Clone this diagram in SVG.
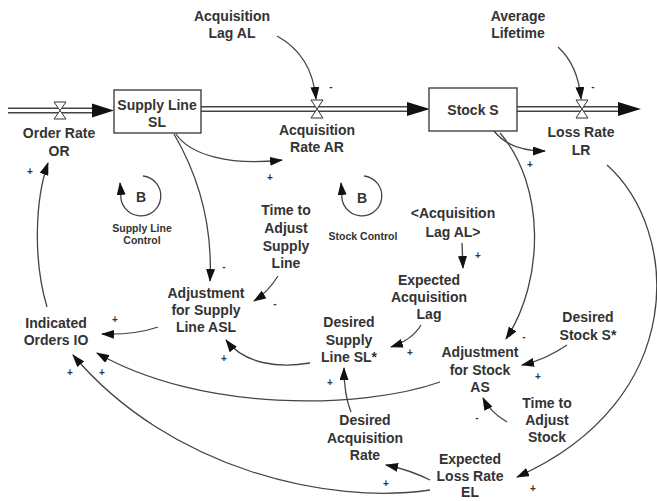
<svg xmlns="http://www.w3.org/2000/svg" width="657" height="501" viewBox="0 0 657 501">
<style>
.t{font-family:"Liberation Sans",Arial,sans-serif;font-weight:bold;font-size:14px;fill:#333;text-anchor:middle}
.s{font-family:"Liberation Sans",Arial,sans-serif;font-weight:bold;font-size:10.5px;fill:#333;text-anchor:middle}
.p{font-family:"Liberation Sans",Arial,sans-serif;font-weight:bold;font-size:10px;fill:#333;text-anchor:middle}
.c{fill:none;stroke:#444;stroke-width:1.3;marker-end:url(#ah)}
.box{fill:#fff;stroke:#333;stroke-width:1.3}
.pipeo{stroke:#444;stroke-width:6;fill:none}
.pipei{stroke:#fff;stroke-width:2.8;fill:none}
.valve{fill:#fff;stroke:#333;stroke-width:1}
.head{fill:#111}
</style>
<defs>
<marker id="ah" viewBox="0 0 13 9" refX="12" refY="4.5" markerWidth="13" markerHeight="9" markerUnits="userSpaceOnUse" orient="auto">
<path d="M0,0 L13,4.5 L0,9 Z" fill="#111"/>
</marker>
</defs>
<rect width="657" height="501" fill="#fff"/>

<g id="flows">
<line class="pipeo" x1="8" y1="110.5" x2="95" y2="110.5"/>
<line class="pipei" x1="8" y1="110.5" x2="95" y2="110.5"/>
<polygon class="head" points="92,103.5 114,110.5 92,117.5"/>
<line class="pipeo" x1="201" y1="109" x2="410" y2="109"/>
<line class="pipei" x1="201" y1="109" x2="410" y2="109"/>
<polygon class="head" points="407,102 430,109 407,116"/>
<line class="pipeo" x1="517" y1="109" x2="620" y2="109"/>
<line class="pipei" x1="517" y1="109" x2="620" y2="109"/>
<polygon class="head" points="618,102 641,109 618,116"/>
</g>

<g id="order-rate">
<polygon class="valve" points="54,102 66,102 60,110.5 66,119 54,119 60,110.5"/>
<text class="t" x="59" y="138">Order Rate</text>
<text class="t" x="59" y="156">OR</text>
</g>
<g id="supply-line">
<rect class="box" x="114" y="90" width="87" height="43"/>
<text class="t" x="157" y="110">Supply Line</text>
<text class="t" x="157" y="127">SL</text>
</g>
<g id="acquisition-rate">
<polygon class="valve" points="311,100 323,100 317,109 323,118 311,118 317,109"/>
<text class="t" x="317" y="135">Acquisition</text>
<text class="t" x="317" y="152">Rate AR</text>
</g>
<g id="stock">
<rect class="box" x="429" y="88" width="88" height="43"/>
<text class="t" x="473" y="115">Stock S</text>
</g>
<g id="loss-rate">
<polygon class="valve" points="576,100 588,100 582,109 588,118 576,118 582,109"/>
<text class="t" x="581" y="137">Loss Rate</text>
<text class="t" x="581" y="155">LR</text>
</g>
<g id="acquisition-lag">
<text class="t" x="232" y="21">Acquisition</text>
<text class="t" x="232" y="38">Lag AL</text>
</g>
<g id="average-lifetime">
<text class="t" x="518" y="21">Average</text>
<text class="t" x="518" y="38">Lifetime</text>
</g>
<g id="time-adjust-supply-line">
<text class="t" x="286" y="215">Time to</text>
<text class="t" x="286" y="233">Adjust</text>
<text class="t" x="286" y="251">Supply</text>
<text class="t" x="286" y="268">Line</text>
</g>
<g id="acquisition-lag-shadow">
<text class="t" x="453" y="218">&lt;Acquisition</text>
<text class="t" x="453" y="237">Lag AL&gt;</text>
</g>
<g id="expected-acquisition-lag">
<text class="t" x="429" y="285">Expected</text>
<text class="t" x="429" y="302">Acquisition</text>
<text class="t" x="429" y="319">Lag</text>
</g>
<g id="adjustment-supply-line">
<text class="t" x="206" y="298">Adjustment</text>
<text class="t" x="206" y="315">for Supply</text>
<text class="t" x="206" y="332">Line ASL</text>
</g>
<g id="indicated-orders">
<text class="t" x="56" y="328">Indicated</text>
<text class="t" x="56" y="345">Orders IO</text>
</g>
<g id="desired-supply-line">
<text class="t" x="349" y="327">Desired</text>
<text class="t" x="349" y="345">Supply</text>
<text class="t" x="349" y="362">Line SL*</text>
</g>
<g id="desired-stock">
<text class="t" x="588" y="322">Desired</text>
<text class="t" x="588" y="340">Stock S*</text>
</g>
<g id="adjustment-stock">
<text class="t" x="480" y="357">Adjustment</text>
<text class="t" x="480" y="375">for Stock</text>
<text class="t" x="480" y="392">AS</text>
</g>
<g id="time-adjust-stock">
<text class="t" x="547" y="408">Time to</text>
<text class="t" x="547" y="425">Adjust</text>
<text class="t" x="547" y="442">Stock</text>
</g>
<g id="desired-acquisition-rate">
<text class="t" x="365" y="425">Desired</text>
<text class="t" x="365" y="443">Acquisition</text>
<text class="t" x="365" y="460">Rate</text>
</g>
<g id="expected-loss-rate">
<text class="t" x="470" y="464">Expected</text>
<text class="t" x="470" y="480.5">Loss Rate</text>
<text class="t" x="470" y="497">EL</text>
</g>
<g id="loop-supply-line-control">
<path class="c" d="M143,176 A20,20 0 1 1 121,193 L120,183"/>
<text class="t" x="141" y="202">B</text>
<text class="s" x="142" y="232">Supply Line</text>
<text class="s" x="142" y="244">Control</text>
</g>
<g id="loop-stock-control">
<path class="c" d="M364,176 A20,20 0 1 1 342,193 L341,183"/>
<text class="t" x="362" y="203">B</text>
<text class="s" x="363" y="240">Stock Control</text>
</g>

<g id="connectors">
<path class="c" d="M277,36 Q312,55 316,99"/>
<path class="c" d="M558,47 Q578,65 581,99"/>
<path class="c" d="M176,134 C190,155 230,166 282,160"/>
<path class="c" d="M174,134 C195,170 213,220 210,281"/>
<path class="c" d="M494,131 C505,145 522,151 545,151"/>
<path class="c" d="M500,133 C545,185 545,280 506,339"/>
<path class="c" d="M607,165 C680,230 690,400 517,477"/>
<path class="c" d="M47,307 C33,260 35,200 48,163"/>
<path class="c" d="M278,276 Q268,292 254,301"/>
<path class="c" d="M158,327 Q135,335 102,334"/>
<path class="c" d="M310,363 C280,368 245,365 226,340"/>
<path class="c" d="M421,325 Q412,340 391,347"/>
<path class="c" d="M462,243 L463,268"/>
<path class="c" d="M567,345 Q545,360 522,365"/>
<path class="c" d="M507,422 Q490,412 483,398"/>
<path class="c" d="M440,382 C360,410 200,412 97,353"/>
<path class="c" d="M430,490 C330,505 170,470 73,355"/>
<path class="c" d="M430,480 Q410,470 386,465"/>
<path class="c" d="M351,412 Q344,395 344,368"/>
</g>

<g id="polarities">
<text class="p" x="331" y="90">-</text>
<text class="p" x="593" y="90">-</text>
<text class="p" x="270" y="181">+</text>
<text class="p" x="530" y="168">+</text>
<text class="p" x="30" y="175">+</text>
<text class="p" x="224" y="270">-</text>
<text class="p" x="275" y="307">-</text>
<text class="p" x="115" y="323">+</text>
<text class="p" x="224" y="362">+</text>
<text class="p" x="478" y="259">+</text>
<text class="p" x="410" y="356">+</text>
<text class="p" x="524" y="340">-</text>
<text class="p" x="538" y="380">+</text>
<text class="p" x="477" y="421">-</text>
<text class="p" x="102" y="376">+</text>
<text class="p" x="70" y="376">+</text>
<text class="p" x="330" y="386">+</text>
<text class="p" x="386" y="487">+</text>
<text class="p" x="533" y="492">+</text>
</g>
</svg>
